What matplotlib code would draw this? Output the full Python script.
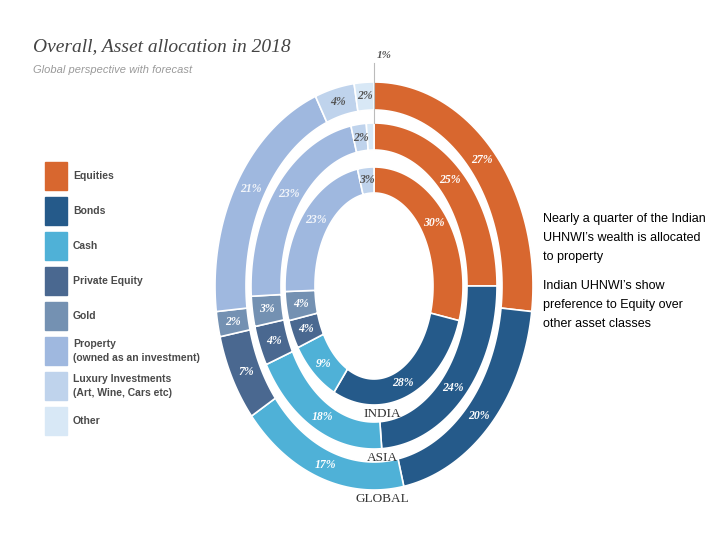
import numpy as np
import matplotlib
matplotlib.use("Agg")
import matplotlib.pyplot as plt
from matplotlib.patches import Rectangle, Polygon

# data
categories = ["Equities", "Bonds", "Cash", "Private Equity", "Gold",
              "Property\n(owned as an investment)",
              "Luxury Investments\n(Art, Wine, Cars etc)", "Other"]
global_vals = [27, 20, 17, 7, 2, 21, 4, 2]
asia_vals = [25, 24, 18, 4, 3, 23, 2, 1]
india_vals = [30, 28, 9, 4, 4, 23, 3, 0]
ring_names = ["GLOBAL", "ASIA", "INDIA"]

colors = ["#D8672F", "#255A8A", "#4FB1D7", "#4A6890", "#7491B2",
          "#9FB8DF", "#BFD3EC", "#D8E8F6"]
# labels on the light slices are dark
label_cols = ["white", "white", "white", "white", "white", "#F2F5FA", "#555555", "#555555"]

fig = plt.figure(figsize=(7.2, 5.4), dpi=100)
# one axes in pixel units over the whole figure
ax = fig.add_axes([0, 0, 1, 1])
ax.set_xlim(0, 720)
ax.set_ylim(540, 0)
ax.axis("off")

ax.text(33, 47, "Overall, Asset allocation in 2018", family="Liberation Serif",
        style="italic", fontsize=14, color="#444444", va="center")
ax.text(33, 70, "Global perspective with forecast", family="Liberation Sans",
        style="italic", fontsize=8, color="#9A9A9A", va="center")

# legend on the left
for i, (cat, c) in enumerate(zip(categories, colors)):
    y = 162 + i * 35
    ax.add_patch(Rectangle((45, y), 22, 28, color=c))
    ax.text(73, y + 14, cat, family="Liberation Sans", fontsize=7.5,
            weight="bold", color="#4A4A4A", va="center", linespacing=1.6)

# right-hand notes
ax.text(543, 238, "Nearly a quarter of the Indian\nUHNWI\u2019s wealth is allocated\nto property",
        family="Liberation Sans", fontsize=9, color="black", va="center", linespacing=1.75)
ax.text(543, 305, "Indian UHNWI\u2019s show\npreference to Equity over\nother asset classes",
        family="Liberation Sans", fontsize=9, color="black", va="center", linespacing=1.75)

# elliptical rings, same stroke thickness all round
cx, cy = 374, 286
# (outer a, outer b, inner a, inner b)
ring_geom = [(159, 204, 128, 176), (123, 163, 93, 136), (89, 119, 59, 93)]
for vals, (ao, bo, ai, bi), name in zip([global_vals, asia_vals, india_vals], ring_geom, ring_names):
    vals = np.array(vals, dtype=float)
    edges = 90 - 360 * np.concatenate([[0], np.cumsum(vals)]) / vals.sum()
    for k, v in enumerate(vals):
        if v == 0:
            continue
        t = np.deg2rad(np.linspace(edges[k], edges[k + 1], 60))
        outer = np.column_stack([cx + ao * np.cos(t), cy - bo * np.sin(t)])
        inner = np.column_stack([cx + ai * np.cos(t[::-1]), cy - bi * np.sin(t[::-1])])
        ax.add_patch(Polygon(np.vstack([outer, inner]), closed=True, facecolor=colors[k],
                             edgecolor="white", linewidth=1.2))
        mid = np.deg2rad((edges[k] + edges[k + 1]) / 2)
        lab = f"{int(v)}%"
        if v == 1:
            # tiny slice: label outside with a leader line
            ax.plot([cx, cx], [cy - bo, 63], color="#BBBBBB", lw=0.8)
            ax.text(cx + 10, 56, lab, family="Liberation Serif", style="italic",
                    weight="bold", fontsize=8, color="#555555", ha="center", va="center")
            continue
        am, bm = (ao + ai) / 2, (bo + bi) / 2
        ax.text(cx + am * np.cos(mid), cy - bm * np.sin(mid), lab, family="Liberation Serif",
                style="italic", weight="bold", fontsize=8.5, color=label_cols[k],
                ha="center", va="center")
    ax.text(cx + 8, cy + bo + 9, name, family="Liberation Serif", fontsize=9.5,
            color="#333333", ha="center", va="center")

fig.savefig("out.png", dpi=100)
